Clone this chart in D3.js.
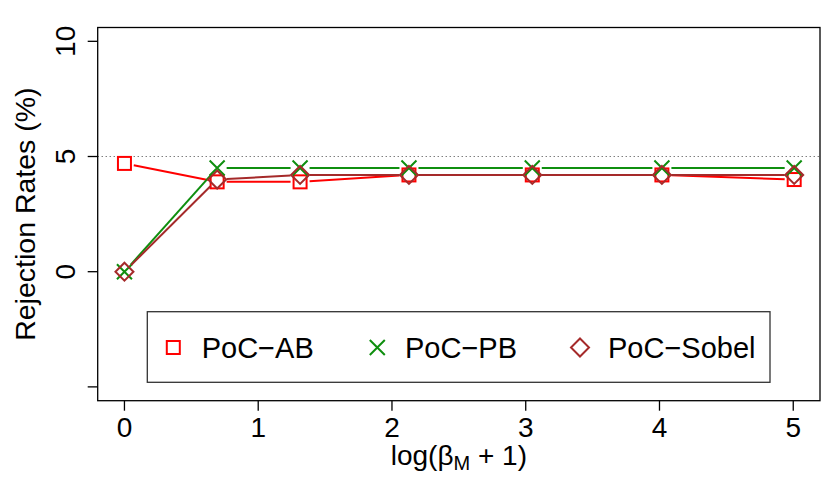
<!DOCTYPE html>
<html><head><meta charset="utf-8">
<script src="https://cdn.jsdelivr.net/npm/d3@7"></script>
<style>body{margin:0;background:#fff}text{font-family:"Liberation Sans",Arial,sans-serif;fill:#000}</style>
</head><body>
<svg id="c" width="830" height="489"></svg>
<script>
const xValues = [0, 0.693, 1.313, 2.127, 3.049, 4.018, 5.007];
const seriesNames = ["PoC\u2212AB", "PoC\u2212PB", "PoC\u2212Sobel"];
const abValues = [4.7, 3.9, 3.9, 4.2, 4.2, 4.2, 4.0];
const pbValues = [0, 4.5, 4.5, 4.5, 4.5, 4.5, 4.5];
const sobelValues = [0, 4.0, 4.2, 4.2, 4.2, 4.2, 4.2];
const xTicks = [0, 1, 2, 3, 4, 5];
const yTicks = [-5, 0, 5, 10];
const yTickLabels = ["", "0", "5", "10"];
const refLine = 5;

const colors = ["#ff0000", "#0f8f0f", "#a52a2a"];
const shapes = ["square", "cross", "diamond"];
const series = [abValues, pbValues, sobelValues];

const svg = d3.select("#c");
const L = 97.7, R = 820, T = 27.5, B = 400.7;
const x = d3.scaleLinear().domain([-0.2, 5.2]).range([L, R]);
const y = d3.scaleLinear().domain([-5.6, 10.6]).range([B, T]);

svg.append("line").attr("x1", L).attr("x2", R).attr("y1", y(refLine)).attr("y2", y(refLine))
  .attr("stroke", "#444").attr("stroke-width", 1).attr("stroke-dasharray", "1,3");

function marker(g, shape, cx, cy, color) {
  if (shape === "square") {
    g.append("rect").attr("x", cx - 6.5).attr("y", cy - 6.5).attr("width", 13).attr("height", 13)
      .attr("fill", "none").attr("stroke", color).attr("stroke-width", 2);
  } else if (shape === "cross") {
    const s = 7.5;
    g.append("path").attr("d", `M${cx - s},${cy - s}L${cx + s},${cy + s}M${cx - s},${cy + s}L${cx + s},${cy - s}`)
      .attr("fill", "none").attr("stroke", color).attr("stroke-width", 2);
  } else {
    const s = 9;
    g.append("path").attr("d", `M${cx},${cy - s}L${cx + s},${cy}L${cx},${cy + s}L${cx - s},${cy}Z`)
      .attr("fill", "none").attr("stroke", color).attr("stroke-width", 2);
  }
}

const gap = 9.5;
series.forEach((vals, si) => {
  const g = svg.append("g");
  const pts = vals.map((v, i) => [x(xValues[i]), y(v)]);
  for (let i = 0; i < pts.length - 1; i++) {
    const [x1, y1] = pts[i], [x2, y2] = pts[i + 1];
    const dx = x2 - x1, dy = y2 - y1, len = Math.hypot(dx, dy);
    if (len <= 2 * gap) continue;
    const ux = dx / len, uy = dy / len;
    g.append("line").attr("x1", x1 + ux * gap).attr("y1", y1 + uy * gap)
      .attr("x2", x2 - ux * gap).attr("y2", y2 - uy * gap)
      .attr("stroke", colors[si]).attr("stroke-width", 2);
  }
  pts.forEach(p => marker(g, shapes[si], p[0], p[1], colors[si]));
});

svg.append("rect").attr("x", L).attr("y", T).attr("width", R - L).attr("height", B - T)
  .attr("fill", "none").attr("stroke", "#000").attr("stroke-width", 1.3);

const xa = svg.append("g");
xa.selectAll("line.t").data(xTicks).join("line").attr("x1", d => x(d)).attr("x2", d => x(d))
  .attr("y1", B).attr("y2", B + 10).attr("stroke", "#000").attr("stroke-width", 1.3);
xa.selectAll("text").data(xTicks).join("text").attr("x", d => x(d)).attr("y", 437)
  .attr("text-anchor", "middle").attr("font-size", 28).text(d => d);

const ya = svg.append("g");
ya.selectAll("line.t").data(yTicks).join("line").attr("x1", L - 10).attr("x2", L)
  .attr("y1", d => y(d)).attr("y2", d => y(d)).attr("stroke", "#000").attr("stroke-width", 1.3);
ya.selectAll("text").data(yTicks).join("text")
  .attr("transform", d => `translate(75,${y(d)}) rotate(-90)`)
  .attr("text-anchor", "middle").attr("font-size", 28).text((d, i) => yTickLabels[i]);

svg.append("text").attr("transform", `translate(35,${(T + B) / 2}) rotate(-90)`)
  .attr("text-anchor", "middle").attr("font-size", 28.5).text("Rejection Rates (%)");
const xl = svg.append("text").attr("x", (L + R) / 2).attr("y", 465).attr("text-anchor", "middle").attr("font-size", 28);
xl.append("tspan").text("log(\u03b2");
xl.append("tspan").attr("font-size", 20).attr("dy", 5).text("M");
xl.append("tspan").attr("dy", -5).text(" + 1)");

svg.append("rect").attr("x", 147.3).attr("y", 311.7).attr("width", 770 - 147.3).attr("height", 382.3 - 311.7)
  .attr("fill", "#fff").attr("stroke", "#333").attr("stroke-width", 1.3);
const symX = [173.3, 377.3, 580], txtX = [201.7, 405, 608];
seriesNames.forEach((n, i) => {
  const g = svg.append("g");
  marker(g, shapes[i], symX[i], 347.5, colors[i]);
  g.append("text").attr("x", txtX[i]).attr("y", 358).attr("font-size", 29).text(n);
});
</script>
</body></html>
